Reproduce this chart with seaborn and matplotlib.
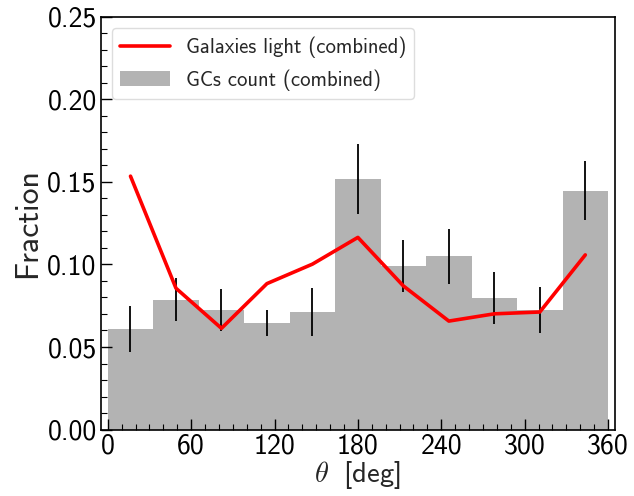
import numpy as np
import pandas as pd
import matplotlib
matplotlib.use("Agg")
import matplotlib.pyplot as plt
from matplotlib.ticker import MultipleLocator, FormatStrFormatter
from matplotlib.patches import Patch
from matplotlib.lines import Line2D
import seaborn as sns

# Angular distribution in 11 equal bins over 0-360 deg
n_bins = 11
bin_edges = np.linspace(0, 360, n_bins + 1)
bin_centers = 0.5 * (bin_edges[:-1] + bin_edges[1:])

gc_fraction = [0.061, 0.0787, 0.0724, 0.0647, 0.0712, 0.1517,
               0.099, 0.105, 0.0797, 0.0726, 0.1448]
gc_error = [0.014, 0.013, 0.0128, 0.008, 0.0147, 0.021,
            0.0157, 0.0167, 0.0155, 0.014, 0.018]
light_fraction = [0.1535, 0.0856, 0.0613, 0.0884, 0.1002, 0.1164,
                  0.087, 0.0657, 0.0701, 0.0712, 0.1058]

df = pd.DataFrame({"theta": bin_centers, "gc": gc_fraction,
                   "gc_err": gc_error, "light": light_fraction})

sns.set_style("ticks")
plt.rcParams["font.family"] = ["cmss10", "DejaVu Sans"]
plt.rcParams["mathtext.fontset"] = "cm"
plt.rcParams["axes.unicode_minus"] = False

fig = plt.figure(figsize=(6.34, 4.96), dpi=100)
ax = fig.add_axes([0.159, 0.134, 0.811, 0.832])
ax.set_axisbelow(False)

bar_color = "#b3b3b3"
sns.histplot(data=df, x="theta", weights="gc", bins=n_bins,
             binrange=(0, 360), color=bar_color, alpha=1.0,
             linewidth=0, ax=ax)
ax.errorbar(df["theta"], df["gc"], yerr=df["gc_err"], fmt="none",
            ecolor="black", elinewidth=1.3, capsize=0, zorder=3)
sns.lineplot(data=df, x="theta", y="light", color="red", linewidth=2.6,
             ax=ax, zorder=4)

ax.set_xlim(-5, 365)
ax.set_ylim(0, 0.25)
ax.xaxis.set_major_locator(MultipleLocator(60))
ax.xaxis.set_minor_locator(MultipleLocator(10))
ax.yaxis.set_major_locator(MultipleLocator(0.05))
ax.yaxis.set_minor_locator(MultipleLocator(0.01))
ax.yaxis.set_major_formatter(FormatStrFormatter("%.2f"))
ax.tick_params(which="both", direction="in", top=False, right=False,
               labelsize=20, colors="black", zorder=5)
ax.tick_params(which="major", length=8, width=1.0, pad=3)
ax.tick_params(which="minor", length=4, width=0.8)
for s in ax.spines.values():
    s.set_linewidth(1.2)
    s.set_color("black")
    s.set_zorder(6)

ax.set_xlabel(r"$\theta\;$ [deg]", fontsize=20.5, labelpad=0)
ax.set_ylabel("Fraction", fontsize=23, labelpad=4)

handles = [Line2D([0], [0], color="red", lw=2.6),
           Patch(facecolor=bar_color, edgecolor="none")]
ax.legend(handles, ["Galaxies light (combined)", "GCs count (combined)"],
          loc="upper left", fontsize=14.9, frameon=True, borderpad=0.4,
          handlelength=2.4, handletextpad=0.75, labelspacing=0.55,
          framealpha=1.0, edgecolor="#dddddd", borderaxespad=0.55)

fig.savefig("out.png", dpi=100)
